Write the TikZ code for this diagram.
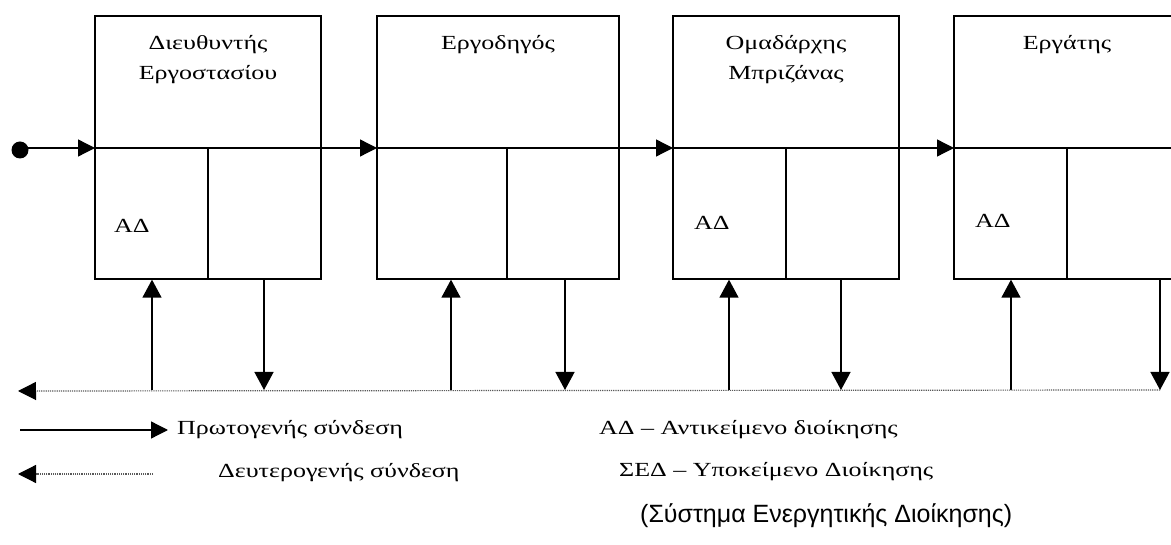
\documentclass[tikz,border=0pt]{standalone}
\usepackage{fontspec}
\setmainfont{Liberation Serif}[FakeStretch=1.3]
\newfontfamily\legendsans{Liberation Sans}
\usetikzlibrary{arrows.meta,positioning}

\tikzset{
  unitbox/.style={draw, line width=1.3pt, inner sep=0pt, minimum height=263pt},
  unittitle/.style={font=\fontsize{20}{30}\selectfont, align=center, inner sep=0pt},
  objlabel/.style={font=\fontsize{20}{22}\selectfont, inner sep=0pt, anchor=west},
  mainflow/.style={line width=1.3pt, -{Triangle[length=17pt,width=17pt]}},
  feedflow/.style={black!65, line width=1.2pt, densely dotted,
    -{Triangle[length=18pt,width=18pt,color=black]}},
  updown/.style={line width=1.3pt, -{Triangle[length=18pt,width=19pt]}},
  legendtext/.style={font=\fontsize{20}{22}\selectfont, inner sep=0pt, anchor=west}
}

\begin{document}
\begin{tikzpicture}[x=1pt,y=-1pt]
\useasboundingbox (0,0) rectangle (1171,545);
\clip (0,0) rectangle (1171,545);

% units of the hierarchy
\foreach \i/\xl/\xr/\xd/\xu/\xdn/\txt in {
  1/95/321/208/152/264/{Διευθυντής\\Εργοστασίου},
  2/377/619/507/451/565/{Εργοδηγός},
  3/673/899/786/729/841/{Ομαδάρχης\\Μπριζάνας},
  4/954/1180/1067/1011/1160/{Εργάτης}}
{
  \node[unitbox, minimum width={(\xr-\xl)*1pt}] (box\i) at ({(\xl+\xr)/2},147.5) {};
  \node[unittitle, below=20pt of box\i.north] (title\i) {\txt};
  % divider of the lower half
  \draw[line width=1.3pt] (\xd,148) -- (\xd,279);
  % feedback connectors
  \coordinate (up\i) at (\xu,390);
  \coordinate (dn\i) at (\xdn,390);
  \coordinate (in\i) at (\xl,148);
  \draw[updown] (up\i) -- (up\i |- box\i.south);
  \draw[updown] (dn\i |- box\i.south) -- (dn\i);
}

% object labels
\node[objlabel] (obj1) at (114,226) {ΑΔ};
\node[objlabel] (obj3) at (694,223) {ΑΔ};
\node[objlabel] (obj4) at (975,221) {ΑΔ};

% primary line
\fill (20,150) circle (8.5pt);
\coordinate (start) at (20,148);
\coordinate (out) at (1180,148);
\draw[mainflow] (start) -- (in1);
\draw[mainflow] (in1) -- (in2);
\draw[mainflow] (in2) -- (in3);
\draw[mainflow] (in3) -- (in4);
\draw[line width=1.3pt] (in4) -- (out);

% secondary line
\coordinate (fbend) at (18,391);
\draw[feedflow] (dn4) -- (fbend);

% legend
\node[legendtext] (prim) at (177,430) {Πρωτογενής σύνδεση};
\coordinate (primstart) at (20,430);
\coordinate (primend) at (168,430);
\draw[mainflow] (primstart) -- (primend);

\node[legendtext] (sec) at (218,473) {Δευτερογενής σύνδεση};
\coordinate (secstart) at (153,474);
\coordinate (secend) at (18,474);
\draw[feedflow] (secstart) -- (secend);

\node[legendtext] (ad) at (599,430) {ΑΔ – Αντικείμενο διοίκησης};
\node[legendtext] (sed) at (619,472) {ΣΕΔ – Υποκείμενο Διοίκησης};
\node[legendtext, font=\legendsans\fontsize{25}{28}\selectfont] (sys) at (640,516) {(Σύστημα Ενεργητικής Διοίκησης)};

\end{tikzpicture}
\end{document}
